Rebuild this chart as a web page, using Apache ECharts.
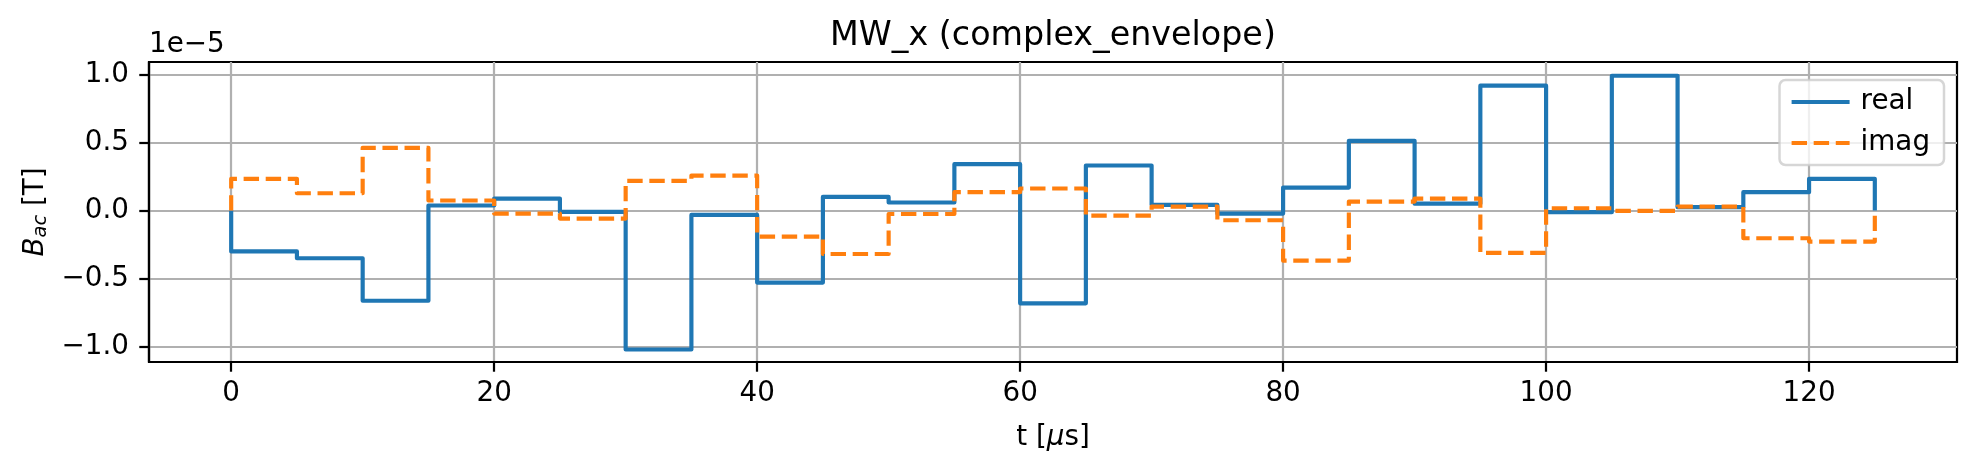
<!DOCTYPE html>
<html>
<head>
<meta charset="utf-8">
<script src="https://cdn.jsdelivr.net/npm/echarts@6/dist/echarts.min.js"></script>
<style>
  html, body { margin: 0; padding: 0; background: #fff; }
  #chart { width: 1977px; height: 474px; }
</style>
</head>
<body>
<div id="chart"></div>
<script>
"use strict";

// ── Datos (B_ac en unidades de 1e-5 T) ─────────────────────────────────────
const timeEdges = [0, 5, 10, 15, 20, 25, 30, 35, 40, 45, 50, 55, 60, 65, 70,
                   75, 80, 85, 90, 95, 100, 105, 110, 115, 120, 125];
const realValues = [-0.30, -0.35, -0.662, 0.037, 0.088, -0.010, -1.02, -0.032,
                    -0.529, 0.100, 0.059, 0.341, -0.681, 0.331, 0.042, -0.022,
                    0.169, 0.512, 0.051, 0.917, -0.012, 0.990, 0.025, 0.135, 0.233];
const imagValues = [0.233, 0.127, 0.461, 0.074, -0.022, -0.059, 0.218, 0.257,
                    -0.191, -0.319, -0.025, 0.135, 0.162, -0.037, 0.029, -0.071,
                    -0.368, 0.066, 0.088, -0.311, 0.017, -0.002, 0.029, -0.203, -0.228];
const xTicks = [0, 20, 40, 60, 80, 100, 120];
const yTicks = [-1.0, -0.5, 0.0, 0.5, 1.0];

// ── Estilo tipo matplotlib ─────────────────────────────────────────────────
const FONT = "'DejaVu Sans', sans-serif";
const PT = 200 / 72;              // figura a 200 dpi
const C_REAL = "#1f77b4";
const C_IMAG = "#ff7f0e";

// escalón "post": arranca y termina en cero
function stepData(values) {
  const pts = [[timeEdges[0], 0]];
  values.forEach((v, i) => pts.push([timeEdges[i + 1], v]));
  pts.push([timeEdges[timeEdges.length - 1], 0]);
  return pts;
}

function fmtY(v) {
  return (v < 0 ? "\u2212" : "") + Math.abs(v).toFixed(1);
}

const chart = echarts.init(document.getElementById("chart"), null, { renderer: "canvas" });

chart.setOption({
  animation: false,
  backgroundColor: "#fff",
  textStyle: { fontFamily: FONT },
  grid: {
    left: 149, top: 62, width: 1808, height: 300,
    show: true, borderColor: "#000", borderWidth: 0.8 * PT,
    backgroundColor: "transparent",
    containLabel: false, outerBoundsMode: "none",
  },
  graphic: [
    {
      type: "text", x: 1053, y: 36, silent: true,
      style: { text: "MW_x (complex_envelope)", font: `${12 * PT}px ${FONT}`,
               fill: "#000", align: "center", verticalAlign: "middle" },
    },
    {
      type: "text", x: 149, y: 45, silent: true,
      style: { text: "1e\u22125", font: `${10 * PT}px ${FONT}`,
               fill: "#000", align: "left", verticalAlign: "middle" },
    },
  ],
  legend: {
    right: 33, top: 80, orient: "vertical",
    itemWidth: 58, itemHeight: 14, itemGap: 13,
    padding: [8, 14, 8, 10],
    backgroundColor: "rgba(255,255,255,0.8)",
    borderColor: "rgba(204,204,204,0.8)", borderWidth: 2.5, borderRadius: 6,
    itemStyle: { opacity: 0 },
    lineStyle: { width: 1.5 * PT },
    textStyle: { fontFamily: FONT, fontSize: 10 * PT, color: "#000", padding: [0, 0, 0, 6] },
    data: ["real", "imag"],
  },
  xAxis: {
    type: "value", min: -6.25, max: 131.25,
    name: "t [{it|\u03bc}s]", nameLocation: "middle", nameGap: 62,
    nameTextStyle: {
      fontFamily: FONT, fontSize: 10 * PT, color: "#000",
      rich: { it: { fontFamily: FONT, fontSize: 10 * PT, fontStyle: "italic", color: "#000" } },
    },
    axisLine: { show: true, onZero: false, lineStyle: { color: "#000", width: 0.8 * PT } },
    axisTick: { show: true, customValues: xTicks, length: 3.5 * PT,
                lineStyle: { color: "#000", width: 0.8 * PT } },
    axisLabel: { customValues: xTicks, margin: 18, color: "#000",
                 fontFamily: FONT, fontSize: 10 * PT },
    splitLine: { show: true, lineStyle: { color: "#b0b0b0", width: 0.8 * PT } },
  },
  yAxis: {
    type: "value", min: -1.112, max: 1.091,
    name: "{it|B}{sub|ac} [T]", nameLocation: "middle", nameGap: 98, nameRotate: 90,
    nameTextStyle: {
      fontFamily: FONT, fontSize: 10 * PT, color: "#000",
      rich: {
        it:  { fontFamily: FONT, fontSize: 10 * PT, fontStyle: "italic", color: "#000" },
        sub: { fontFamily: FONT, fontSize: 7 * PT, fontStyle: "italic", color: "#000",
               verticalAlign: "bottom", padding: [10, 0, 0, 0] },
      },
    },
    axisLine: { show: true, onZero: false, lineStyle: { color: "#000", width: 0.8 * PT } },
    axisTick: { show: true, customValues: yTicks, length: 3.5 * PT,
                lineStyle: { color: "#000", width: 0.8 * PT } },
    axisLabel: { customValues: yTicks, margin: 20, color: "#000",
                 fontFamily: FONT, fontSize: 10 * PT, formatter: fmtY },
    splitLine: { show: true, lineStyle: { color: "#b0b0b0", width: 0.8 * PT } },
  },
  series: [
    {
      name: "real", type: "line", step: "start",
      data: stepData(realValues),
      showSymbol: false, symbol: "none",
      lineStyle: { color: C_REAL, width: 1.5 * PT, join: "round" },
      itemStyle: { color: C_REAL },
      z: 3,
    },
    {
      name: "imag", type: "line", step: "start",
      data: stepData(imagValues),
      showSymbol: false, symbol: "none",
      lineStyle: { color: C_IMAG, width: 1.5 * PT, type: [5.55 * PT, 2.4 * PT], join: "round" },
      itemStyle: { color: C_IMAG },
      z: 4,
    },
  ],
});

window.addEventListener("resize", () => chart.resize());
</script>
</body>
</html>
